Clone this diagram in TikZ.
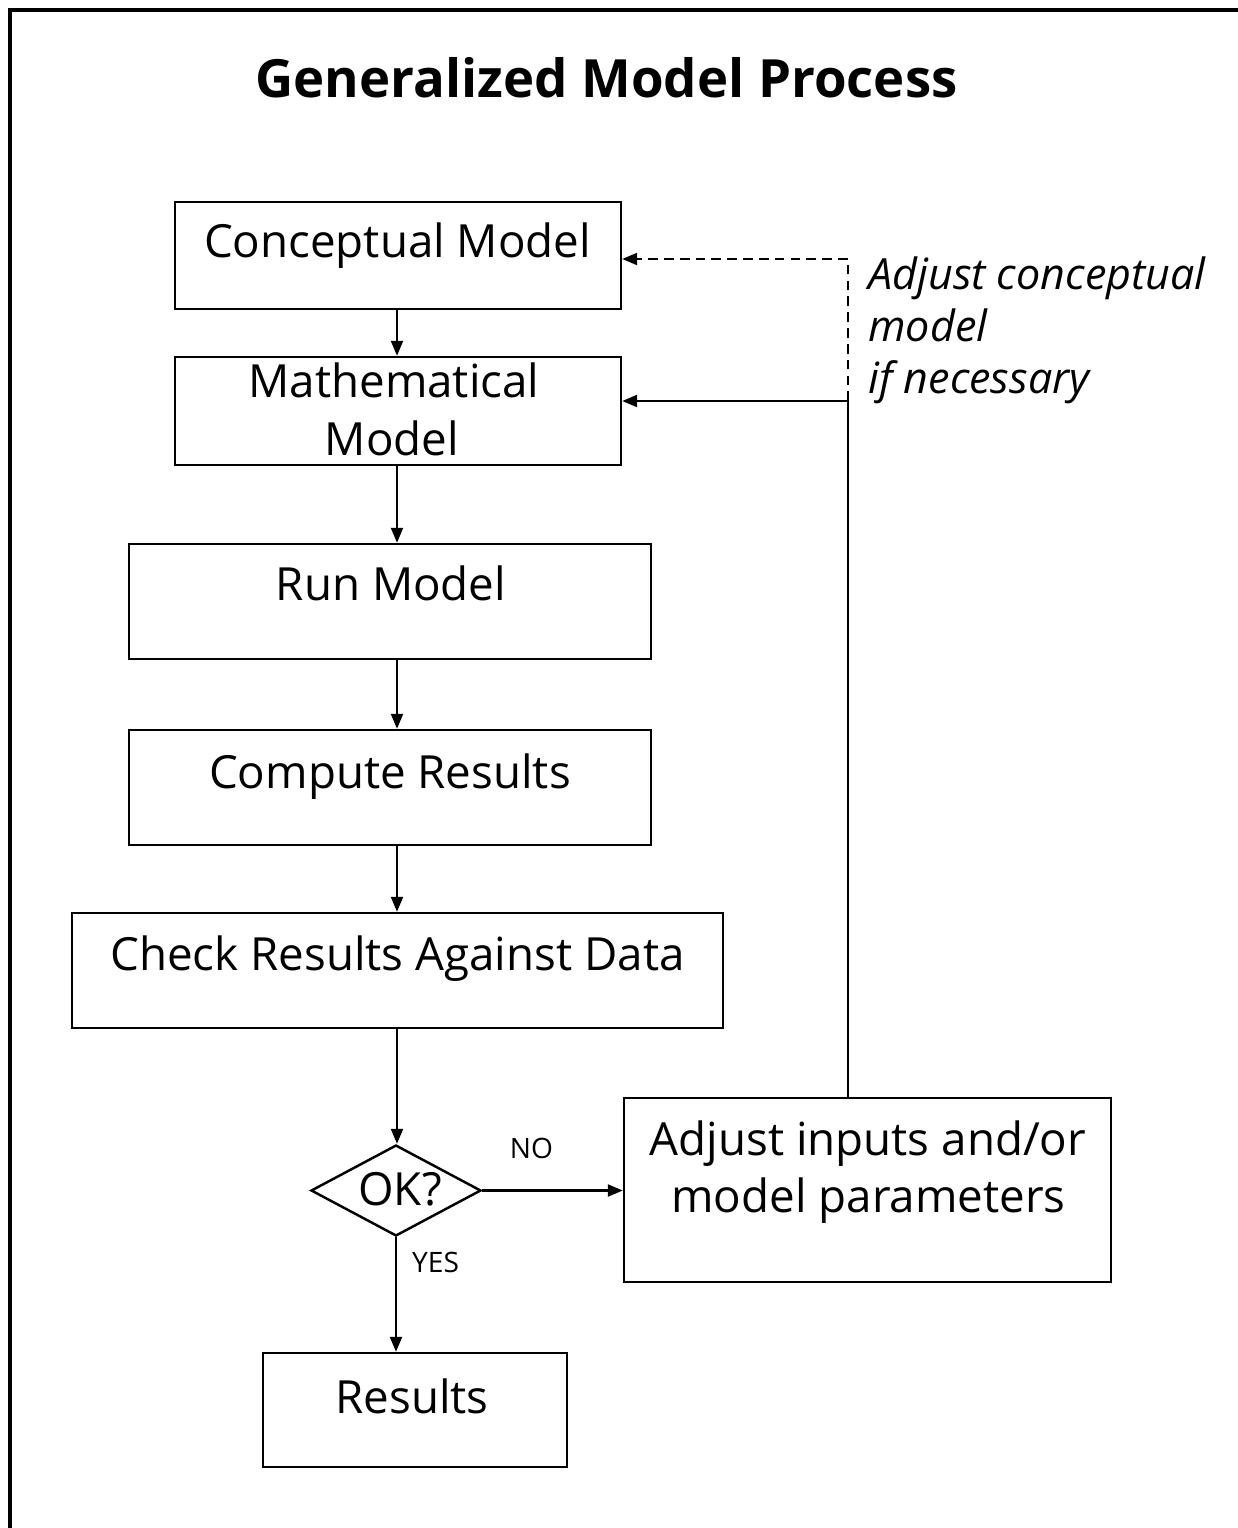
\documentclass[tikz,border=0pt]{standalone}
\usepackage{fontspec}
\setmainfont{Open Sans}
\usetikzlibrary{shapes.geometric,arrows.meta}

\begin{document}
\begin{tikzpicture}[x={(1cm,0cm)}, y={(0cm,1cm)},
  box/.style={draw,rectangle,line width=1.4pt,inner sep=0pt},
  boxtext/.style={anchor=base,inner sep=0pt,font=\fontsize{26}{31}\selectfont},
  notetext/.style={anchor=base west,inner sep=0pt,font=\fontsize{24.5}{29}\selectfont\itshape},
  smalltext/.style={anchor=base,inner sep=0pt,font=\fontsize{16}{18}\selectfont},
  link/.style={line width=1.3pt,-{Triangle[length=0.3cm,width=0.24cm]}}]
  \useasboundingbox (0,0) rectangle (24.76,-30.56);
  % Frame
  \draw[line width=2.2pt] (0.2,-30.56) -- (0.2,-0.2) -- (24.76,-0.2);
  \node[anchor=base,inner sep=0pt,font=\fontsize{30}{35}\selectfont\bfseries] (title) at (12.13,-1.94) {Generalized Model Process};
  % Nodes
  \node[box,minimum width=8.92cm,minimum height=2.14cm] (concept) at (7.96,-5.11) {};
  \node[box,minimum width=8.92cm,minimum height=2.16cm] (math) at (7.96,-8.22) {};
  \node[box,minimum width=10.44cm,minimum height=2.30cm] (run) at (7.80,-12.03) {};
  \node[box,minimum width=10.44cm,minimum height=2.30cm] (compute) at (7.80,-15.75) {};
  \node[box,minimum width=13.02cm,minimum height=2.30cm] (check) at (7.95,-19.41) {};
  \node[draw,diamond,line width=1.4pt,inner sep=0pt,minimum width=3.4cm,minimum height=1.82cm] (ok) at (7.92,-23.81) {};
  \node[box,minimum width=9.74cm,minimum height=3.68cm] (adjust) at (17.35,-23.80) {};
  \node[box,minimum width=6.08cm,minimum height=2.28cm] (results) at (8.30,-28.20) {};
  % Texts
  \node[boxtext] (concepttxt) at (7.95,-5.14) {Conceptual Model};
  \node[boxtext] (mathtxt1) at (7.88,-7.94) {Mathematical};
  \node[boxtext] (mathtxt2) at (7.84,-9.10) {Model};
  \node[boxtext] (runtxt) at (7.82,-12.00) {Run Model};
  \node[boxtext] (computetxt) at (7.80,-15.76) {Compute Results};
  \node[boxtext] (checktxt) at (7.95,-19.40) {Check Results Against Data};
  \node[boxtext] (oktxt) at (8.00,-24.10) {OK?};
  \node[boxtext] (adjusttxt1) at (17.36,-23.10) {Adjust inputs and/or};
  \node[boxtext] (adjusttxt2) at (17.37,-24.24) {model parameters};
  \node[boxtext] (resultstxt) at (8.24,-28.26) {Results};
  \node[notetext] (note1) at (17.36,-5.78) {Adjust conceptual};
  \node[notetext] (note2) at (17.36,-6.82) {model};
  \node[notetext] (note3) at (17.36,-7.86) {if necessary};
  \coordinate (turn) at (16.96,-8.02);
  \coordinate (top) at (16.96,-5.18);
  % Edges
  \draw[link] (concept.south -| 7.94,0) -- (math.north -| 7.94,0);
  \draw[link] (math.south -| 7.94,0) -- (run.north -| 7.94,0);
  \draw[link] (run.south -| 7.94,0) -- (compute.north -| 7.94,0);
  \draw[link] (compute.south -| 7.94,0) -- (check.north -| 7.94,0);
  \draw[link] (check.south -| 7.94,0) -- (ok.north -| 7.94,0);
  \draw[link] (ok.east) -- (adjust.west |- ok.east) node[smalltext,pos=0.35,above=0.62cm] (no) {NO};
  \draw[link] (ok.south) -- (ok.south |- results.north) node[smalltext,pos=0.22,right=0.3cm] (yes) {YES};
  \draw[link] (adjust.north -| turn) -- (turn) -- (math.east |- turn);
  \draw[link,line width=1.2pt,dash pattern=on 5.5pt off 3.5pt] (turn) -- (top) -- (concept.east |- top);
\end{tikzpicture}
\end{document}
